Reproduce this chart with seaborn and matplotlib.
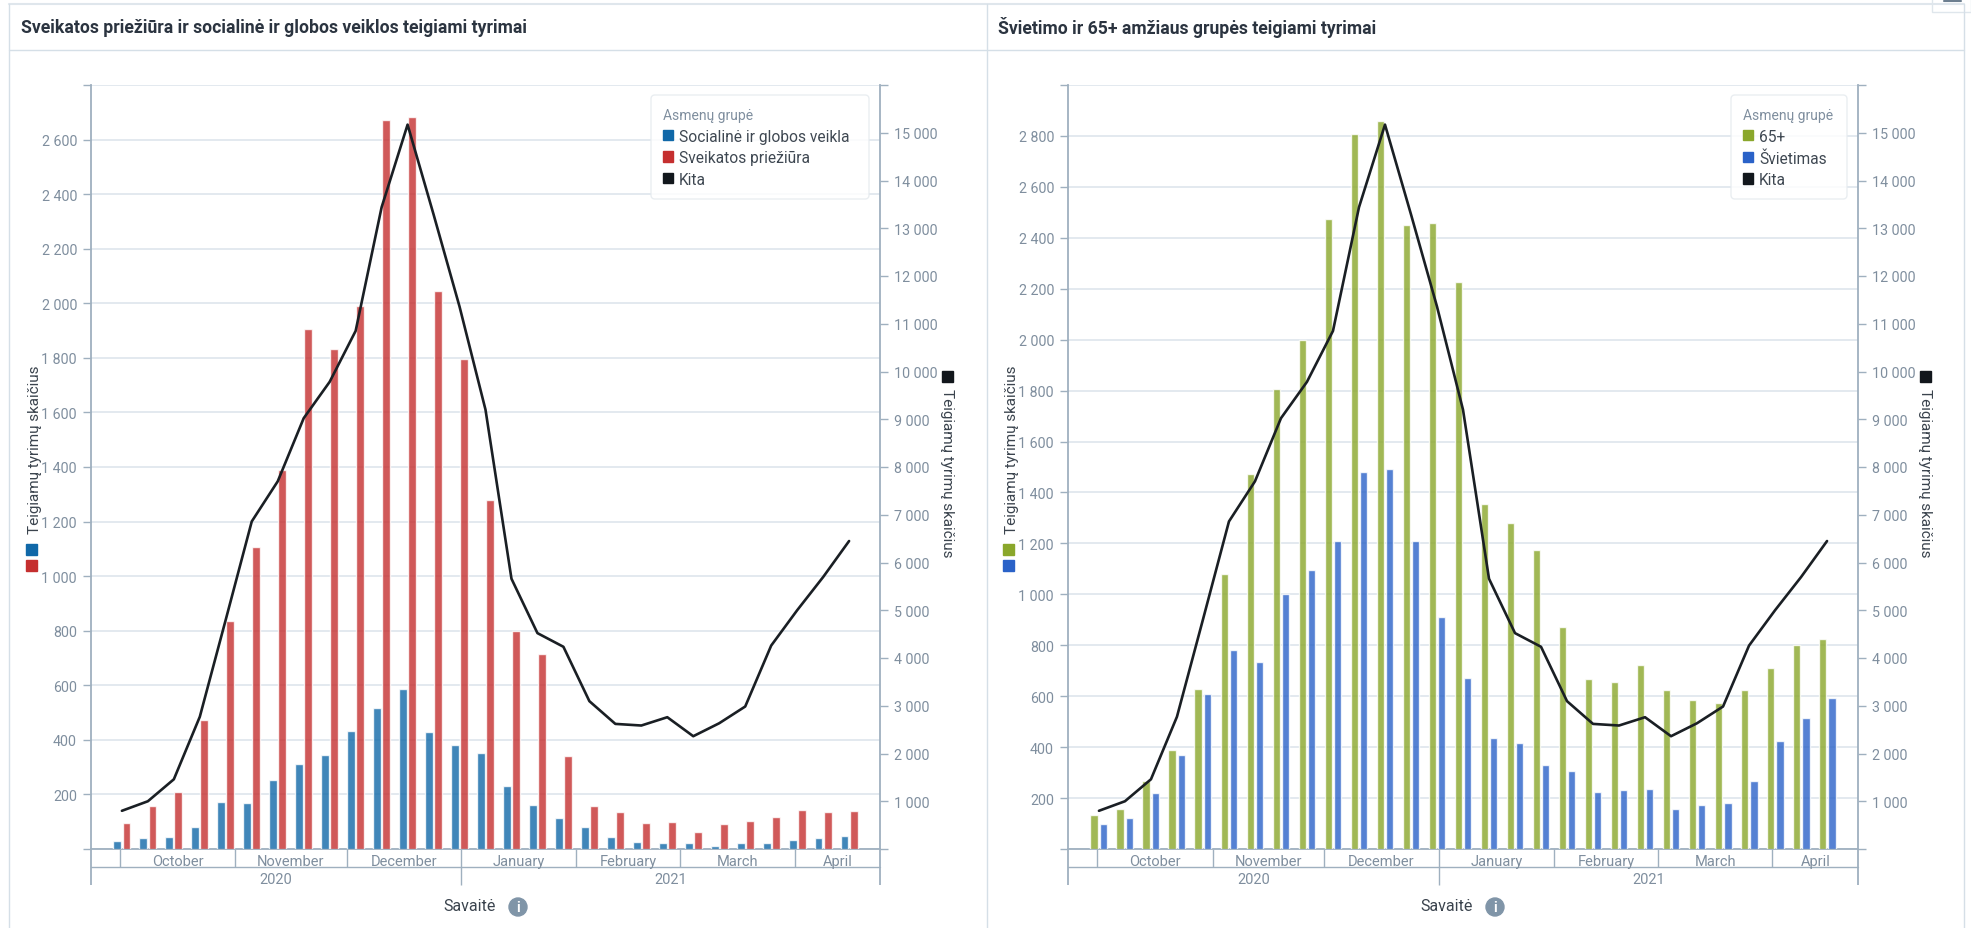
import matplotlib
matplotlib.use('Agg')
import matplotlib.pyplot as plt
from matplotlib.lines import Line2D
from matplotlib.patches import Circle, FancyBboxPatch, Patch, Rectangle
from matplotlib.transforms import IdentityTransform
import pandas as pd
import seaborn as sns

W, H = 1971, 929

weeks = ['W%d' % w for w in range(40, 54)] + ['W%d' % w for w in range(1, 16)]

social = [28, 41, 44, 80, 172, 169, 254, 311, 346, 433, 515, 586, 428, 382, 352,
          232, 162, 115, 79, 45, 24, 21, 21, 12, 21, 22, 33, 40, 46]
health = [94, 156, 210, 472, 836, 1108, 1390, 1905, 1833, 1991, 2671, 2683, 2046,
          1795, 1279, 799, 715, 340, 158, 137, 96, 99, 64, 93, 104, 116, 144, 134, 140]
age65 = [135, 158, 266, 388, 630, 1081, 1473, 1808, 1998, 2474, 2809, 2860, 2449,
         2457, 2228, 1355, 1282, 1173, 873, 666, 657, 723, 624, 585, 575, 624, 712,
         802, 823]
education = [97, 122, 221, 369, 609, 780, 736, 1001, 1096, 1208, 1479, 1494, 1208,
             910, 670, 437, 415, 330, 305, 223, 232, 236, 157, 174, 182, 267, 425,
             513, 594]
other = [800, 1000, 1460, 2770, 4806, 6860, 7700, 9022, 9784, 10850, 13440, 15170,
         13290, 11360, 9200, 5660, 4521, 4235, 3096, 2620, 2586, 2760, 2362, 2634,
         2984, 4260, 5000, 5695, 6450]

months = ['October', 'November', 'December', 'January', 'February', 'March', 'April']
month_edges = [-0.06, 4.37, 8.65, 13.07, 17.5, 21.5, 25.9, 29.19]
years = ['2020', '2021']
year_edges = [-1.19, 13.07, 29.19]

AXIS = '#9fb0bf'
GRID = '#e3e9ef'
TICK = '#7f8e9e'
DARK = '#3a434d'
BLACK = '#12171c'

sns.set_theme(style='white')
plt.rcParams['font.family'] = ['Roboto', 'DejaVu Sans']

fig = plt.figure(figsize=(W / 100, H / 100), dpi=100, facecolor='white')


def space(v):
    return f'{v:,}'.replace(',', ' ')


def fig_line(x0, y0, x1, y1, color='#d5dfe7', lw=1.0):
    fig.add_artist(Line2D([x0 / W, x1 / W], [1 - y0 / H, 1 - y1 / H], color=color, lw=lw))


def draw_panel(x0, x1, title, first, second, name1, name2, color1, color2, ymax, box):
    top, base = 86, 850
    ax = fig.add_axes([x0 / W, 1 - base / H, (x1 - x0) / W, (base - top) / H])
    df = pd.DataFrame({'week': weeks * 2,
                       'value': first + second,
                       'group': [name1] * len(weeks) + [name2] * len(weeks)})
    sns.barplot(data=df, x='week', y='value', hue='group', order=weeks,
                hue_order=[name1, name2], palette=[color1, color2], saturation=1,
                width=0.7, gap=0.14, alpha=0.8, legend=False, ax=ax, zorder=3)
    ax.set_xlim(-1.19, 29.19)
    ax.set_ylim(0, ymax)
    ax.set_xlabel('')
    ax.set_ylabel('')
    ax.set_xticks([])
    ax.set_yticks(range(0, ymax + 1, 200))
    ax.set_yticklabels(['' if v in (0, ymax) else space(v) for v in range(0, ymax + 1, 200)])
    ax.tick_params(axis='y', left=True, length=6, width=1, color=AXIS, labelcolor=TICK,
                   labelsize=10.3, pad=4)
    ax.grid(axis='y', color=GRID, lw=1.4)
    ax.set_axisbelow(True)
    for s in ['top', 'right']:
        ax.spines[s].set_visible(False)
    ax.spines['left'].set_color(AXIS)
    ax.spines['left'].set_linewidth(1.3)
    ax.spines['bottom'].set_color(AXIS)
    ax.spines['bottom'].set_linewidth(1.3)

    ax2 = ax.twinx()
    line_df = pd.DataFrame({'pos': range(len(weeks)), 'value': other})
    sns.lineplot(data=line_df, x='pos', y='value', color='#1a1f24', lw=1.9, ax=ax2)
    ax2.set_xlim(-1.19, 29.19)
    ax2.set_ylim(0, 16000)
    ax2.set_ylabel('')
    ax2.set_yticks(range(0, 16001, 1000))
    ax2.set_yticklabels(['' if v in (0, 16000) else space(v) for v in range(0, 16001, 1000)])
    ax2.tick_params(axis='y', right=True, length=6, width=1, color=AXIS, labelcolor=TICK,
                    labelsize=10.3, pad=4)
    for s in ['top', 'left', 'bottom']:
        ax2.spines[s].set_visible(False)
    ax2.spines['right'].set_color(AXIS)
    ax2.spines['right'].set_linewidth(1.3)

    # two level date axis under the bars
    trans = ax.get_xaxis_transform()
    row1 = -18 / (base - top)
    row2 = -36 / (base - top)
    ax.plot([-1.19, 29.19], [row1, row1], color=AXIS, lw=1, transform=trans, clip_on=False)
    ax.vlines(month_edges[:-1], row1, 0, color=AXIS, lw=1, transform=trans, clip_on=False)
    ax.vlines([-1.19, 29.19], row2, 0, color=AXIS, lw=1.3, transform=trans, clip_on=False)
    ax.vlines(year_edges[1], row2, row1, color=AXIS, lw=1, transform=trans, clip_on=False)
    for i, m in enumerate(months):
        ax.text((month_edges[i] + month_edges[i + 1]) / 2, row1 / 2 - 3 / (base - top), m,
                transform=trans, ha='center', va='center', color=TICK, fontsize=10.5)
    for i, y in enumerate(years):
        ax.text((year_edges[i] + year_edges[i + 1]) / 2, (row1 + row2) / 2 - 3 / (base - top), y,
                transform=trans, ha='center', va='center', color=TICK, fontsize=10.5)

    # legend, the frame is drawn apart because its padding is not even
    bx0, bx1 = box
    ax2.add_patch(FancyBboxPatch((bx0 + 4, H - 200 + 4), bx1 - bx0 - 8, 96, boxstyle='round,pad=4',
                                 facecolor='white', alpha=0.85, edgecolor='#e6ebef', lw=1,
                                 transform=IdentityTransform(), zorder=4, clip_on=False))
    handles = [Patch(color=color1), Patch(color=color2), Patch(color=BLACK)]
    leg = ax2.legend(handles, [name1, name2, 'Kita'], title='Asmenų grupė', loc='upper left',
                     bbox_to_anchor=((bx0 + 12) / W, 1 - 109 / H), bbox_transform=fig.transFigure,
                     fontsize=11.2, title_fontsize=10, frameon=False,
                     handlelength=0.65, handleheight=0.65, handletextpad=0.38, labelspacing=0.42,
                     borderpad=0, borderaxespad=0, alignment='left', labelcolor='#3f4852')
    leg.set_zorder(5)
    leg.get_title().set_color(TICK)

    # title and axis captions
    fig.text((x0 - 70) / W, 1 - 28 / H, title, fontsize=12.7, fontweight='bold', color='#2b3440',
             va='center', ha='left')
    fig.text((x0 - 56) / W, 1 - 450 / H, 'Teigiamų tyrimų skaičius', rotation=90, fontsize=11,
             color=DARK, ha='center', va='center')
    fig.text((x1 + 67) / W, 1 - 473 / H, 'Teigiamų tyrimų skaičius', rotation=270, fontsize=11,
             color=DARK, ha='center', va='center')
    for color, sx, sy in [(color1, x0 - 65, 550), (color2, x0 - 65, 566), (BLACK, x1 + 62, 377)]:
        fig.add_artist(Rectangle((sx / W, 1 - (sy + 5.5) / H), 11 / W, 11 / H, color=color,
                                 transform=fig.transFigure))
    fig.text((x0 + 379) / W, 1 - 907 / H, 'Savaitė', fontsize=11.5, color=DARK, ha='center', va='center')
    cx, cy = x0 + 427, 908
    fig.add_artist(Circle((cx, H - cy), 9, color='#8095a8', transform=None))
    fig.text(cx / W, 1 - cy / H, 'i', fontsize=10, fontweight='bold', color='white', ha='center', va='center')


# card borders
fig_line(9, 5, 1964, 5, '#dfe6ec', 1.5)
fig_line(9, 51, 1964, 51)
fig_line(9, 5, 9, 929)
fig_line(987, 5, 987, 929)
fig_line(1964, 5, 1964, 929)

draw_panel(91, 880, 'Sveikatos priežiūra ir socialinė ir globos veiklos teigiami tyrimai',
           social, health, 'Socialinė ir globos veikla', 'Sveikatos priežiūra',
           '#1068a8', '#c52f2f', 2800, (651, 869))
draw_panel(1068, 1858, 'Švietimo ir 65+ amžiaus grupės teigiami tyrimai',
           age65, education, '65+', 'Švietimas', '#8aa72b', '#2a62c8', 3000, (1731, 1847))

# small menu button in the corner
fig.add_artist(Rectangle((1932 / W, 1 - 13 / H), 39 / W, 14 / H, facecolor='white',
                         edgecolor='#dfe6ec', transform=fig.transFigure))
fig_line(1944, 2, 1961, 2, '#6d7f90', 1.5)

fig.savefig('out.png', dpi=100)
